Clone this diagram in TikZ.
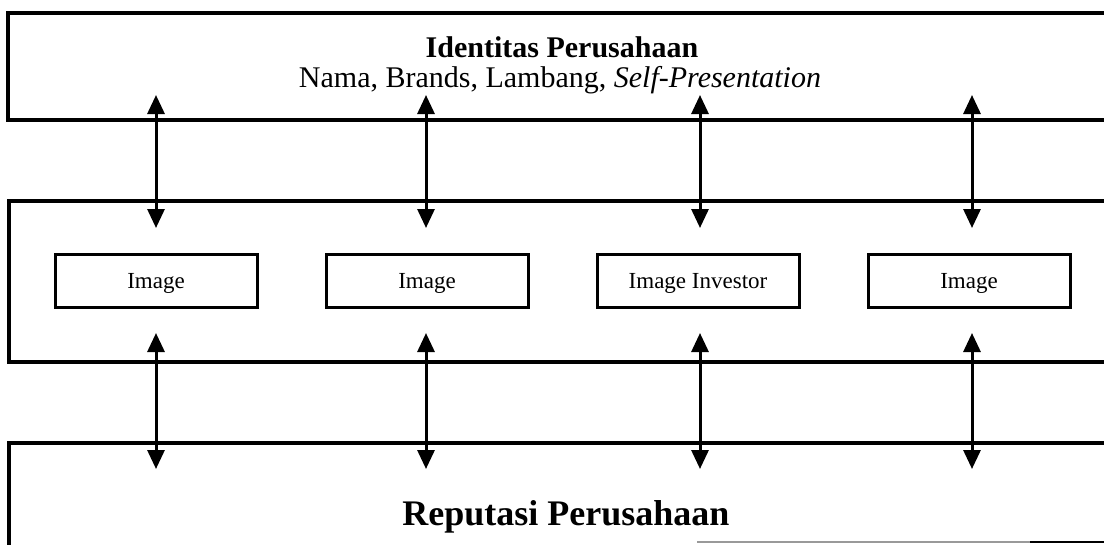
\documentclass[tikz,border=0pt]{standalone}
\usepackage{fontspec}
\setmainfont{Liberation Serif}
\usetikzlibrary{arrows.meta}
\tikzset{
  band/.style={line width=3.2pt, line join=miter},
  imgbox/.style={draw, line width=3pt, minimum width=202pt, minimum height=53pt,
    inner sep=0pt, text height=16pt, text depth=0pt, font=\fontsize{23}{26}\selectfont},
  link/.style={line width=3pt,
    {Triangle[length=19pt,width=17pt]}-{Triangle[length=19pt,width=17pt]}},
  headline/.style={anchor=base, font=\bfseries\fontsize{30}{34}\selectfont},
  subline/.style={anchor=base, font=\fontsize{30}{34}\selectfont},
  footline/.style={anchor=base, font=\bfseries\fontsize{36}{40}\selectfont},
}
\begin{document}
\begin{tikzpicture}[x=1pt,y=-1pt]
\useasboundingbox (0,0) rectangle (1104,544);
\clip (0,0) rectangle (1104,544);

% corporate identity band (open to the right)
\draw[band] (1115,13) -- (8,13) -- (8,120) -- (1115,120);
\node[headline] (idtitle) at (562,57) {Identitas Perusahaan};
\node[subline]  (idsub)   at (560,87) {Nama, Brands, Lambang, \textit{Self-Presentation}};

% image band
\draw[band] (1115,201) -- (9,201) -- (9,362) -- (1115,362);
\node[imgbox] (img1) at (156,280.5) {Image};
\node[imgbox] (img2) at (427,280.5) {Image};
\node[imgbox] (img3) at (698,280.5) {Image Investor};
\node[imgbox] (img4) at (969,280.5) {Image};

% reputation band
\draw[band] (1115,443) -- (9,443) -- (9,560);
\draw[line width=2pt, black!40] (697,542) -- (1030,542);
\draw[line width=2.6pt] (1030,542) -- (1115,542);
\node[footline] (rep) at (566,525) {Reputasi Perusahaan};

% two-way links between the bands
\foreach \x [count=\i] in {156,426,700,972} {
  \coordinate (idin\i)  at (\x,95);
  \coordinate (imtop\i) at (\x,228);
  \coordinate (imbot\i) at (\x,333);
  \coordinate (repin\i) at (\x,469);
  \draw[link] (idin\i) -- (imtop\i);
  \draw[link] (imbot\i) -- (repin\i);
}
\end{tikzpicture}
\end{document}
